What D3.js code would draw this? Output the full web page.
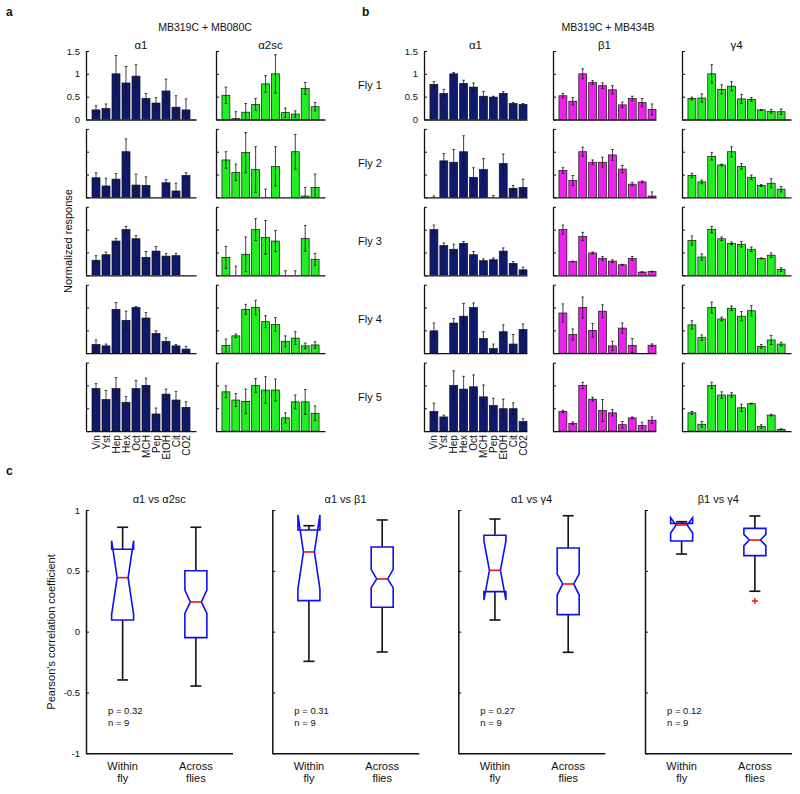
<!DOCTYPE html>
<html><head><meta charset="utf-8">
<script src="https://cdn.jsdelivr.net/npm/d3@7"></script>
<style>
body{margin:0;background:#fff}
text{font-family:"Liberation Sans",Arial,Helvetica,sans-serif;fill:#111}
</style>
</head><body><svg id="c" width="800" height="794" xmlns="http://www.w3.org/2000/svg"></svg>
<script>
// ---------------- DATA ----------------
const odors = ["Vin","Yst","Hep","Hex","Oct","MCH","Pep","EtOH","Cit","CO2"];
const flyLabels = ["Fly 1","Fly 2","Fly 3","Fly 4","Fly 5"];
const yTicksBars = [0, 0.5, 1, 1.5];

// Panel a: MB319C + MB080C (rows = flies, cols = odors)
const aAlpha1Mean = [
 [0.21,0.24,1.0,0.8,0.95,0.46,0.36,0.625,0.27,0.21],
 [0.43,0.25,0.40,1.0,0.27,0.26,0,0.32,0.14,0.48],
 [0.33,0.45,0.75,1.0,0.80,0.39,0.53,0.42,0.43,0],
 [0.19,0.16,0.96,0.72,1.0,0.77,0.43,0.26,0.16,0.09],
 [0.93,0.69,0.93,0.63,0.93,1.0,0.375,0.81,0.68,0.52]];
const aAlpha1Err = [
 [0.09,0.1,0.4,0.36,0.25,0.11,0.12,0.26,0.25,0.24],
 [0.11,0.17,0.12,0.28,0.24,0.19,0,0.07,0.17,0.06],
 [0.1,0.06,0.06,0.07,0.07,0.13,0.1,0.06,0.05,0],
 [0.1,0.04,0.15,0.2,0.02,0.12,0.06,0.08,0.03,0.06],
 [0.11,0.2,0.24,0.13,0.18,0.16,0.13,0.11,0.19,0.12]];
const aAlpha2scMean = [
 [0.53,0.02,0.16,0.33,0.78,1.0,0.15,0.12,0.68,0.28],
 [0.82,0.55,0.98,0.61,0,0.68,0,1.0,0.03,0.22],
 [0.39,0,0.46,1.0,0.83,0.75,0,0,0.81,0.35],
 [0.17,0.38,0.96,1.0,0.69,0.63,0.26,0.33,0.16,0.18],
 [0.86,0.68,0.65,1.0,0.9,0.9,0.29,0.64,0.64,0.39]];
const aAlpha2scErr = [
 [0.18,0.15,0.19,0.13,0.18,0.42,0.1,0.07,0.13,0.09],
 [0.18,0.18,0.44,0.5,0.18,0.43,0,0.38,0.19,0.29],
 [0.24,0.2,0.38,0.24,0.37,0.23,0.1,0.1,0.28,0.13],
 [0.14,0.04,0.11,0.16,0.13,0.15,0.12,0.14,0.06,0.07],
 [0.13,0.14,0.27,0.15,0.29,0.24,0.11,0.15,0.27,0.16]];

// Panel b: MB319C + MB434B
const bAlpha1Mean = [
 [0.77,0.57,1.0,0.79,0.71,0.51,0.49,0.57,0.35,0.33],
 [0,0.8,0.77,1.0,0.44,0.61,0,0.74,0.2,0.22],
 [1.0,0.65,0.57,0.7,0.45,0.32,0.34,0.53,0.26,0.12],
 [0.49,0,0.66,0.81,1.0,0.32,0.1,0.47,0.2,0.52],
 [0.43,0.31,1.0,0.92,0.97,0.75,0.56,0.49,0.49,0.21]];
const bAlpha1Err = [
 [0.06,0.09,0.03,0.07,0.09,0.1,0.02,0.04,0.02,0.02],
 [0.03,0.16,0.28,0.35,0.21,0.24,0.04,0.21,0.06,0.18],
 [0.1,0.06,0.11,0.04,0.07,0.04,0.04,0.07,0.04,0.06],
 [0.17,0,0.1,0.28,0.1,0.15,0.1,0.15,0.21,0.12],
 [0.18,0.04,0.32,0.28,0.26,0.26,0.16,0.21,0.13,0.06]];
const bBeta1Mean = [
 [0.52,0.4,1.0,0.81,0.74,0.65,0.32,0.46,0.37,0.22],
 [0.59,0.37,1.0,0.77,0.77,0.93,0.62,0.29,0.34,0.03],
 [1.0,0.3,0.85,0.49,0.37,0.31,0.23,0.37,0.07,0.08],
 [0.88,0.41,1.0,0.5,0.92,0.16,0.55,0.17,0,0.175],
 [0.43,0.17,1.0,0.7,0.45,0.4,0.14,0.29,0.125,0.24]];
const bBeta1Err = [
 [0.05,0.08,0.11,0.04,0.06,0.09,0.06,0.05,0.09,0.12],
 [0.06,0.11,0.1,0.05,0.11,0.12,0.08,0.04,0.02,0.09],
 [0.1,0.01,0.09,0.02,0.04,0.03,0.01,0.04,0.01,0.01],
 [0.2,0.12,0.23,0.15,0.14,0.1,0.11,0.15,0,0.03],
 [0.03,0.03,0.07,0.04,0.24,0.07,0.07,0.02,0.07,0.07]];
const bGamma4Mean = [
 [0.46,0.47,1.0,0.66,0.73,0.45,0.44,0.21,0.18,0.17],
 [0.48,0.34,0.9,0.71,1.0,0.68,0.44,0.26,0.31,0.18],
 [0.76,0.4,1.0,0.8,0.7,0.68,0.57,0.37,0.44,0.125],
 [0.62,0.34,1.0,0.75,0.985,0.81,0.93,0.15,0.29,0.2],
 [0.4,0.15,1.0,0.79,0.79,0.51,0.6,0.1,0.35,0.04]];
const bGamma4Err = [
 [0.03,0.09,0.2,0.1,0.1,0.1,0.04,0.01,0.04,0.06],
 [0.05,0.04,0.08,0.02,0.11,0.06,0.05,0.02,0.1,0.06],
 [0.1,0.07,0.07,0.04,0.03,0.06,0.05,0.01,0.05,0.04],
 [0.09,0.06,0.12,0.04,0.05,0.1,0.11,0.04,0.1,0.04],
 [0.03,0.06,0.07,0.07,0.05,0.08,0.01,0.04,0.02,0.01]];

// Panel c: boxplots of Pearson's correlation
const boxTitles = ["α1 vs α2sc","α1 vs β1","α1 vs γ4","β1 vs γ4"];
const boxGroups = [["Within","fly"],["Across","flies"]];
const yTicksBox = [-1,-0.5,0,0.5,1];
// within fly
const withinLo   = [-0.397,-0.244,0.096,0.638];
const withinQ1   = [0.096,0.255,0.329,0.745];
const withinNLo  = [0.14,0.351,0.26,0.81];
const withinMed  = [0.444,0.655,0.504,0.877];
const withinNHi  = [0.748,0.959,0.746,0.937];
const withinQ3   = [0.677,0.836,0.792,0.89];
const withinHi   = [0.858,0.871,0.926,0.904];
// across flies
const acrossLo   = [-0.447,-0.167,-0.17,0.332];
const acrossQ1   = [-0.049,0.2,0.14,0.625];
const acrossNLo  = [0.15,0.362,0.301,0.707];
const acrossMed  = [0.244,0.433,0.392,0.753];
const acrossNHi  = [0.342,0.512,0.474,0.8];
const acrossQ3   = [0.501,0.696,0.688,0.849];
const acrossHi   = [0.858,0.918,0.953,0.951];
const acrossOutliers = [[],[],[],[0.252]];
const pValues = ["0.32","0.31","0.27","0.12"];
const nValues = [9,9,9,9];

// ---------------- DRAW ----------------
const svg = d3.select("#c");
const NAVY = "#0f1a6c", GREEN = "#22ee22", MAGENTA = "#ee22ee";
const ROW0 = 119.5, ROWSTEP = 77.9, ROWH = 68.5;

function txt(x, y, s, opts = {}) {
  return svg.append("text").attr("x", x).attr("y", y).text(s)
    .attr("font-size", opts.size || 10)
    .attr("font-weight", opts.bold ? "bold" : null)
    .attr("text-anchor", opts.anchor || "start");
}

// panel letters and headers
txt(6, 16, "a", {size: 12, bold: true});
txt(362, 16, "b", {size: 12, bold: true});
txt(6, 475, "c", {size: 12, bold: true});
txt(205, 31, "MB319C + MB080C", {size: 10.5, anchor: "middle"});
txt(608, 31, "MB319C + MB434B", {size: 10.5, anchor: "middle"});

svg.append("text").attr("transform", "translate(72,241) rotate(-90)")
  .attr("text-anchor", "middle").attr("font-size", 11).text("Normalized response");
svg.append("text").attr("transform", "translate(55,632) rotate(-90)")
  .attr("text-anchor", "middle").attr("font-size", 11).text("Pearson's correlation coefficient");

const barPanels = [
  {mean: aAlpha1Mean, err: aAlpha1Err, color: NAVY, left: 86, right: 196, dom: [0, 11], title: "α1", labels: true},
  {mean: aAlpha2scMean, err: aAlpha2scErr, color: GREEN, left: 216, right: 325, dom: [0, 11], title: "α2sc", labels: false},
  {mean: bAlpha1Mean, err: bAlpha1Err, color: NAVY, left: 424, right: 527, dom: [0, 10.4], title: "α1", labels: true},
  {mean: bBeta1Mean, err: bBeta1Err, color: MAGENTA, left: 553, right: 656, dom: [0, 10.4], title: "β1", labels: false},
  {mean: bGamma4Mean, err: bGamma4Err, color: GREEN, left: 682, right: 791, dom: [0, 11], title: "γ4", labels: false}
];

flyLabels.forEach((f, i) => {
  const base = ROW0 + i * ROWSTEP;
  txt(358, base - ROWH / 2 + 4, f, {size: 11});
});

barPanels.forEach((p, pi) => {
  const x = d3.scaleLinear().domain(p.dom).range([p.left, p.right]);
  const unit = x(1) - x(0);
  txt((p.left + p.right) / 2, 49, p.title, {size: 11.5, anchor: "middle"});
  p.mean.forEach((row, fi) => {
    const base = ROW0 + fi * ROWSTEP;
    const y = d3.scaleLinear().domain([0, 1.5]).range([base, base - ROWH]);
    const cid = `clip-${pi}-${fi}`;
    svg.append("clipPath").attr("id", cid).append("rect")
      .attr("x", p.left).attr("y", base - ROWH - 1).attr("width", p.right - p.left + 2).attr("height", ROWH + 1);
    const g = svg.append("g").attr("clip-path", `url(#${cid})`);
    const data = row.map((v, k) => ({k: k + 1, v, e: p.err[fi][k]}));
    g.selectAll("rect.bar").data(data.filter(d => d.v > 0)).enter().append("rect")
      .attr("x", d => x(d.k) - 0.4 * unit).attr("width", 0.8 * unit)
      .attr("y", d => y(d.v)).attr("height", d => base - y(d.v))
      .attr("fill", p.color).attr("stroke", "#111").attr("stroke-width", 0.7);
    const eb = g.selectAll("g.eb").data(data.filter(d => d.e > 0)).enter().append("g")
      .attr("stroke", "#111").attr("stroke-width", 0.8);
    eb.append("line").attr("x1", d => x(d.k)).attr("x2", d => x(d.k))
      .attr("y1", d => y(d.v - d.e)).attr("y2", d => y(d.v + d.e));
    eb.append("line").attr("x1", d => x(d.k) - 1.3).attr("x2", d => x(d.k) + 1.3)
      .attr("y1", d => y(d.v + d.e)).attr("y2", d => y(d.v + d.e));
    eb.append("line").attr("x1", d => x(d.k) - 1.3).attr("x2", d => x(d.k) + 1.3)
      .attr("y1", d => y(d.v - d.e)).attr("y2", d => y(d.v - d.e));
    // axes
    const showLbl = p.labels && fi === 0;
    const ya = svg.append("g").attr("transform", `translate(${p.left},0)`)
      .call(d3.axisLeft(y).tickValues(yTicksBars).tickSizeInner(-3).tickSizeOuter(0).tickPadding(6)
        .tickFormat(showLbl ? (d => String(d)) : () => ""));
    const xa = svg.append("g").attr("transform", `translate(0,${base})`)
      .call(d3.axisBottom(x).tickValues([]).tickSizeOuter(0));
    [ya, xa].forEach(a => {
      a.select(".domain").attr("stroke", "#111").attr("stroke-width", 1.3);
      a.selectAll(".tick line").attr("stroke", "#111").attr("stroke-width", 1);
      a.selectAll(".tick text").attr("font-size", 9.5).attr("fill", "#222")
        .attr("font-family", '"Liberation Sans",Arial,sans-serif');
    });
    if (p.labels && fi === 4) {
      odors.forEach((o, k) => {
        svg.append("text").attr("transform", `translate(${x(k + 1) + 3.5},${base + 4}) rotate(-90)`)
          .attr("text-anchor", "end").attr("font-size", 10).text(o);
      });
    }
  });
});

// ---------- panel c ----------
const yb = d3.scaleLinear().domain([-1, 1]).range([753.3, 510]);
const boxLefts = [86, 272.3, 458.3, 645];
const BOXW = 146.5, HW = 11;
boxTitles.forEach((t, i) => {
  const x = d3.scaleLinear().domain([0.5, 2.5]).range([boxLefts[i], boxLefts[i] + BOXW]);
  txt(boxLefts[i] + BOXW / 2, 503, t, {size: 11, anchor: "middle"});
  const ya = svg.append("g").attr("transform", `translate(${boxLefts[i]},0)`)
    .call(d3.axisLeft(yb).tickValues(yTicksBox).tickSizeInner(-3).tickSizeOuter(0).tickPadding(6)
      .tickFormat(i === 0 ? (d => String(d)) : () => ""));
  const xa = svg.append("g").attr("transform", `translate(0,${yb(-1)})`)
    .call(d3.axisBottom(x).tickValues([]).tickSizeOuter(0));
  [ya, xa].forEach(a => {
    a.select(".domain").attr("stroke", "#111").attr("stroke-width", 1.5);
    a.selectAll(".tick line").attr("stroke", "#111").attr("stroke-width", 1);
    a.selectAll(".tick text").attr("font-size", 9.5).attr("fill", "#222")
      .attr("font-family", '"Liberation Sans",Arial,sans-serif');
  });
  const stats = [
    {lo: withinLo[i], q1: withinQ1[i], nlo: withinNLo[i], med: withinMed[i], nhi: withinNHi[i], q3: withinQ3[i], hi: withinHi[i], out: []},
    {lo: acrossLo[i], q1: acrossQ1[i], nlo: acrossNLo[i], med: acrossMed[i], nhi: acrossNHi[i], q3: acrossQ3[i], hi: acrossHi[i], out: acrossOutliers[i]}
  ];
  stats.forEach((s, gi) => {
    const cx = x(gi + 1);
    const g = svg.append("g");
    const wk = g.append("g").attr("stroke", "#111").attr("stroke-width", 1.6);
    wk.append("line").attr("x1", cx).attr("x2", cx).attr("y1", yb(s.q3)).attr("y2", yb(s.hi));
    wk.append("line").attr("x1", cx).attr("x2", cx).attr("y1", yb(s.q1)).attr("y2", yb(s.lo));
    wk.append("line").attr("x1", cx - HW / 2).attr("x2", cx + HW / 2).attr("y1", yb(s.hi)).attr("y2", yb(s.hi));
    wk.append("line").attr("x1", cx - HW / 2).attr("x2", cx + HW / 2).attr("y1", yb(s.lo)).attr("y2", yb(s.lo));
    const pts = [[cx - HW, s.q1], [cx - HW, s.nlo], [cx - HW / 2, s.med], [cx - HW, s.nhi], [cx - HW, s.q3],
                 [cx + HW, s.q3], [cx + HW, s.nhi], [cx + HW / 2, s.med], [cx + HW, s.nlo], [cx + HW, s.q1]];
    g.append("path").attr("d", d3.line().x(d => d[0]).y(d => yb(d[1]))(pts) + "Z")
      .attr("fill", "none").attr("stroke", "#1010ee").attr("stroke-width", 1.6).attr("stroke-linejoin", "miter");
    g.append("line").attr("x1", cx - HW / 2).attr("x2", cx + HW / 2).attr("y1", yb(s.med)).attr("y2", yb(s.med))
      .attr("stroke", "#ee1111").attr("stroke-width", 1.6);
    s.out.forEach(o => {
      g.append("path").attr("d", `M${cx - 3},${yb(o)}H${cx + 3}M${cx},${yb(o) - 3}V${yb(o) + 3}`)
        .attr("stroke", "#ee1111").attr("stroke-width", 1.3);
    });
    txt(cx, 769.5, boxGroups[gi][0], {size: 11, anchor: "middle"});
    txt(cx, 781.5, boxGroups[gi][1], {size: 11, anchor: "middle"});
  });
  txt(boxLefts[i] + 22, 714, "p = " + pValues[i], {size: 9.5});
  txt(boxLefts[i] + 22, 726, "n = " + nValues[i], {size: 9.5});
});
</script></body></html>
